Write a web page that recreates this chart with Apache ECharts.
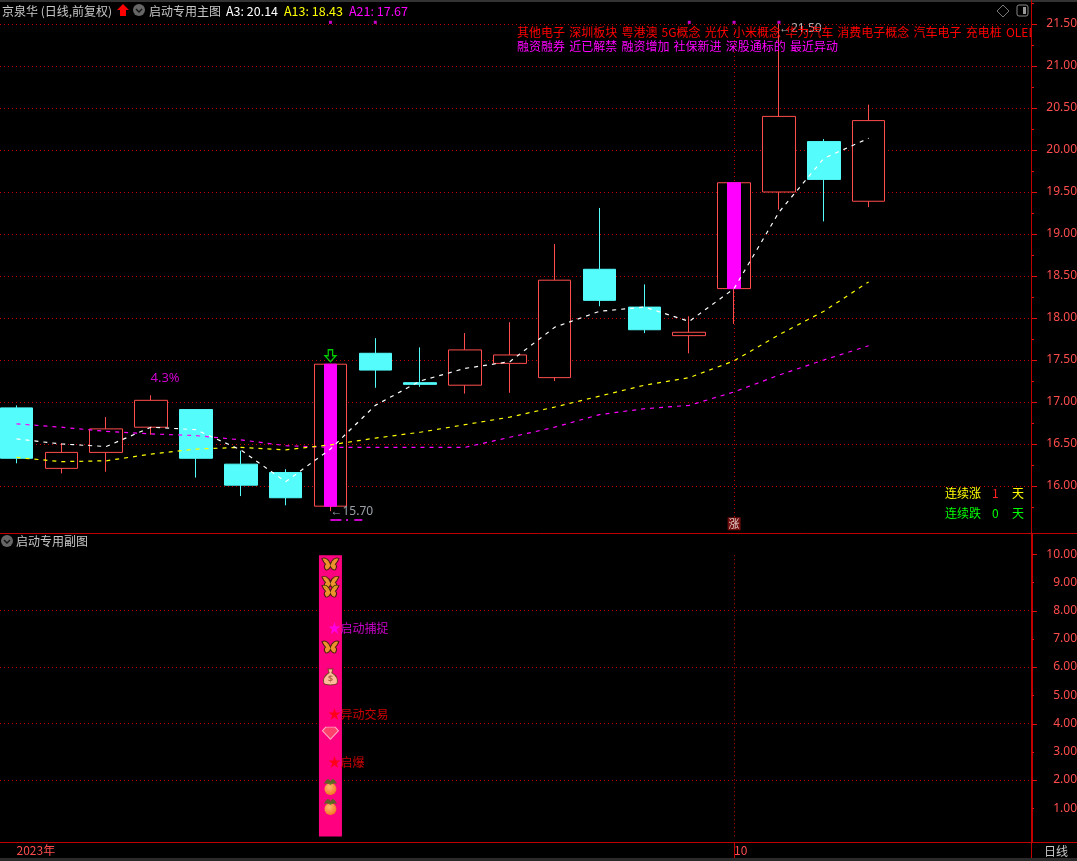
<!DOCTYPE html>
<html>
<head>
<meta charset="utf-8">
<title>京泉华</title>
<style>
  html,body{margin:0;padding:0;background:#000;}
  #main{width:1077px;height:861px;}
</style>
<script src="https://cdn.jsdelivr.net/npm/echarts@6/dist/echarts.min.js"></script>
</head>
<body>
<div id="main"></div>
<script>
// [open, close, low, high]
var candles = [
  [16.93,16.33,16.27,16.96],
  [16.21,16.40,16.15,16.51],
  [16.40,16.68,16.17,16.82],
  [16.70,17.02,16.61,17.08],
  [16.91,16.33,16.10,16.91],
  [16.26,16.01,15.88,16.42],
  [16.16,15.86,15.77,16.20],
  [15.76,17.45,15.70,17.45],
  [17.58,17.38,17.17,17.76],
  [17.23,17.21,17.18,17.65],
  [17.20,17.62,17.10,17.82],
  [17.46,17.56,17.11,17.95],
  [17.29,18.45,17.25,18.88],
  [18.58,18.21,18.14,19.31],
  [18.13,17.86,17.82,18.40],
  [17.79,17.83,17.58,18.02],
  [18.35,19.61,17.93,19.61],
  [19.50,20.40,19.29,21.50],
  [20.10,19.65,19.15,20.13],
  [19.39,20.35,19.32,20.54]
];
var a3 = [16.56,16.50,16.47,16.70,16.67,16.43,16.05,16.44,16.96,17.25,17.40,17.48,17.89,18.08,18.13,17.96,18.35,19.26,19.90,20.14];
var a13 = [16.34,16.29,16.30,16.38,16.44,16.46,16.43,16.49,16.57,16.64,16.73,16.82,16.94,17.07,17.20,17.29,17.49,17.80,18.08,18.43];
var a21 = [16.74,16.70,16.65,16.62,16.60,16.55,16.48,16.46,16.46,16.46,16.46,16.58,16.70,16.85,16.92,16.96,17.12,17.32,17.50,17.67];
// 启动柱
var gainBars = [7, 16];
var topDots = [7, 8, 15, 16, 17];
var monthIdx = 16;
var xLabels = {0:'2023年', 16:'10'};
var mainTicks = [16,16.5,17,17.5,18,18.5,19,19.5,20,20.5,21,21.5];
var mainMinorTicks = [15.75,16.25,16.75,17.25,17.75,18.25,18.75,19.25,19.75,20.25,20.75,21.25,21.75];
var subOddTicks = [1,3,5,7,9];
var subEvenTicks = [2,4,6,8,10];

var conceptTags = ['其他电子','深圳板块','粤港澳','5G概念','光伏','小米概念','华为汽车','消费电子概念','汽车电子','充电桩','OLED'];
var creditTags = ['融资融券','近已解禁','融资增加','社保新进','深股通标的','最近异动'];

// 副图
var subBarIdx = 7, subBarTop = 9.96;
var subGridLevels = [2,4,6,8];
var butterflies = [9.65,9.00,8.69,6.71];
var bags = [5.65];
var gems = [3.66];
var oranges = [1.68,0.97];
var signals = [
  {name:'启动捕捉', value:7.38, color:'#ff00ff'},
  {name:'异动交易', value:4.34, color:'#ff0000'},
  {name:'启爆', value:2.64, color:'#ff0000'}
];

var RED = '#ff4d4d', CYAN = '#54fcfc', GRID = '#c80000', FRAME = '#c00000', TICK = '#e01010';
var CJK = '"Noto Sans CJK SC","Noto Sans",sans-serif';
var NUM = '"Noto Sans","Liberation Sans",sans-serif';
var dotted = [1,3];

function head(x,y,text,color,size){
  return {type:'text',x:x,y:y,z:50,style:{text:text,fill:color,font:(size||12)+'px '+CJK,verticalAlign:'middle'}};
}
function tagRow(tags,x,y,color){
  var ctx = document.createElement('canvas').getContext('2d');
  ctx.font = '12px '+CJK;
  return tags.map(function(t){
    var el = head(x,y,t,color,12);
    x += ctx.measureText(t).width+4.2;
    return el;
  });
}
function hline(y,x1,x2,w){
  return {type:'line',z:60,shape:{x1:x1,y1:y,x2:x2,y2:y},style:{stroke:FRAME,lineWidth:w||1}};
}
function vline(x,y1,y2,w){
  return {type:'line',z:60,shape:{x1:x,y1:y1,x2:x,y2:y2},style:{stroke:FRAME,lineWidth:w||1}};
}
function chevron(cx,cy){
  return [
    {type:'circle',z:50,shape:{cx:cx,cy:cy,r:6},style:{fill:'#666'}},
    {type:'polyline',z:51,shape:{points:[[cx-3,cy-1],[cx,cy+2],[cx+3,cy-1]]},style:{stroke:'#111',lineWidth:1.4,fill:null}}
  ];
}
function maLine(name,data,color){
  return {name:name,type:'line',data:data.map(function(v,i){return [i,v];}),xAxisIndex:0,yAxisIndex:0,
    symbol:'none',z:10,lineStyle:{color:color,width:1.2,type:[4,5]}};
}

var graphicEls = [
  {type:'rect',z:30,shape:{x:0,y:0,width:1077,height:2},style:{fill:'#333'}},
  {type:'rect',z:30,shape:{x:0,y:858,width:1077,height:3},style:{fill:'#2a2a2a'}},
  hline(533.5,0,1077), hline(842.5,0,1077),
  vline(1031.5,0,533), vline(1032,533,842,2), vline(1031.5,842,858),
  // 标签超出坐标轴的部分盖掉
  {type:'rect',z:55,shape:{x:1032,y:26,width:13,height:13},style:{fill:'#000'}},
  head(2,11,'京泉华 (日线,前复权)','#c8c8c8',12),
  {type:'polygon',z:50,shape:{points:[[123,4],[129,10],[126,10],[126,16],[120,16],[120,10],[117,10]]},style:{fill:'#ff0000'}},
  head(149,11,'启动专用主图','#c8c8c8',12),
  head(226,11,'A3: '+a3[a3.length-1].toFixed(2),'#ffffff',12.5),
  head(284,11,'A13: '+a13[a13.length-1].toFixed(2),'#ffff00',12.5),
  head(349,11,'A21: '+a21[a21.length-1].toFixed(2),'#ff00ff',12.5),
  head(16,541,'启动专用副图','#c8c8c8',12),
  head(945,493,'连续涨','#ffff00',12), head(992,493,'1','#ff2020',12), head(1012,493,'天','#ffff00',12),
  head(945,513,'连续跌','#00ff00',12), head(992,513,'0','#00ff00',12), head(1012,513,'天','#00ff00',12),
  head(1044,851,'日线','#c8c8c8',12),
  {type:'polygon',z:50,shape:{points:[[1003,5],[1009,11],[1003,17],[997,11]]},style:{fill:null,stroke:'#777',lineWidth:1}},
  {type:'rect',z:50,shape:{x:1017,y:5,width:11,height:11,r:2},style:{fill:null,stroke:'#888',lineWidth:1}},
  {type:'rect',z:50,shape:{x:1023,y:7,width:3,height:7},style:{fill:'#999'}}
].concat(chevron(139,10), chevron(7,541), tagRow(conceptTags,517,32,'#ff0000'), tagRow(creditTags,517,46,'#ff00ff'));

var option = {
  animation:false,
  backgroundColor:'#000',
  textStyle:{fontFamily:CJK},
  graphic:{elements:graphicEls},
  grid:[
    {left:0,top:3,width:1031,height:525,outerBoundsMode:'none'},
    {left:0,top:540,width:1031,height:296.5,outerBoundsMode:'none'}
  ],
  xAxis:[
    {type:'value',gridIndex:0,min:-0.368,max:22.62,containShape:false,show:false,splitLine:{show:false}},
    {type:'value',gridIndex:1,min:-0.368,max:22.62,containShape:false,offset:6,splitLine:{show:false},
      axisLine:{show:true,onZero:false,lineStyle:{color:FRAME}},
      axisTick:{show:true,customValues:[monthIdx],length:16,lineStyle:{color:FRAME}},
      axisLabel:{customValues:[0,monthIdx],color:RED,fontSize:12,fontFamily:CJK,align:'left',margin:2,
        formatter:function(v){return xLabels[v]||'';}}}
  ],
  yAxis:[
    {type:'value',gridIndex:0,position:'right',min:15.5,max:21.75,interval:0.5,
      axisLine:{show:false,onZero:false},
      axisTick:{show:false},
      axisLabel:{color:RED,fontSize:12,fontFamily:NUM,align:'right',margin:46,showMinLabel:false,showMaxLabel:false,
        formatter:function(v){return v.toFixed(2);}},
      splitLine:{show:true,showMinLine:false,showMaxLine:false,lineStyle:{color:GRID,type:dotted}}},
    {type:'value',gridIndex:1,position:'right',min:0,max:10.5,interval:1,
      axisLine:{show:false,onZero:false},
      axisTick:{show:false},
      axisLabel:{color:RED,fontSize:12,fontFamily:NUM,align:'right',margin:46,showMinLabel:false,showMaxLabel:false,
        formatter:function(v){return v.toFixed(2);}},
      splitLine:{show:false}}
  ],
  series:[
    {name:'K',type:'candlestick',xAxisIndex:0,yAxisIndex:0,barWidth:33,z:5,
      encode:{x:0,y:[1,2,3,4]},
      data:candles.map(function(c,i){return [i].concat(c);}),
      itemStyle:{color:'#000',color0:CYAN,borderColor:RED,borderColor0:CYAN,borderWidth:1},
      markLine:{silent:true,symbol:'none',label:{show:false},z:1,
        lineStyle:{color:GRID,type:dotted,width:1},
        data:[[{coord:[monthIdx,21.5]},{coord:[monthIdx,15.62]}]]}},
    {name:'启动柱',type:'candlestick',xAxisIndex:0,yAxisIndex:0,barWidth:13,z:6,
      encode:{x:0,y:[1,2,3,4]},
      data:gainBars.map(function(i){var c=candles[i];return [i,c[0],c[1],c[0],c[1]];}),
      itemStyle:{color:'#ff00ff',color0:'#ff00ff',borderColor:'#ff00ff',borderColor0:'#ff00ff'}},
    maLine('A21',a21,'#ff00ff'),
    maLine('A13',a13,'#ffff00'),
    maLine('A3',a3,'#ffffff'),
    {name:'dots',type:'scatter',xAxisIndex:0,yAxisIndex:0,symbol:'rect',symbolSize:3,z:12,
      data:topDots.map(function(i){return [i,21.52];}),itemStyle:{color:'#ff00ff'}},
    {name:'notes',type:'scatter',xAxisIndex:0,yAxisIndex:0,symbolSize:0,z:13,
      data:[
        {value:[7,candles[7][2]],label:{show:true,position:'right',distance:0,formatter:'←'+candles[7][2].toFixed(2),color:'#c0c8d0',fontSize:12,fontFamily:NUM}},
        {value:[17,candles[17][3]],label:{show:true,position:'right',distance:0,offset:[0,5],formatter:'←'+candles[17][3].toFixed(2),color:'#d8d8d8',fontSize:12,fontFamily:NUM}},
        {value:[3,candles[3][3]],label:{show:true,position:'top',distance:2,offset:[14,-8],formatter:'4.3%',color:'#ff00ff',fontSize:13,fontFamily:NUM}}
      ]},
    {name:'arrow',type:'scatter',xAxisIndex:0,yAxisIndex:0,z:13,
      symbol:'path://M30 0 L70 0 L70 50 L100 50 L50 100 L0 50 L30 50 Z',symbolSize:[11,12],
      data:[[7,17.55]],itemStyle:{color:'#000',borderColor:'#00ff00',borderWidth:1.3}},
    {name:'zhang',type:'scatter',xAxisIndex:0,yAxisIndex:0,z:13,symbol:'rect',symbolSize:13,
      data:[[monthIdx,15.55]],itemStyle:{color:'#8c0f0f'},
      label:{show:true,position:'inside',formatter:'涨',color:'#fff',fontSize:11,fontFamily:CJK}},
    {name:'cut',type:'scatter',xAxisIndex:0,yAxisIndex:0,z:13,symbol:'rect',
      data:[{value:[7.12,15.595],symbolSize:[11,2]},{value:[7.37,15.595],symbolSize:[2,2]},{value:[7.62,15.595],symbolSize:[8,2]}],
      itemStyle:{color:'#ff00ff'}},

    // 副图
    {name:'gap',type:'candlestick',xAxisIndex:1,yAxisIndex:1,barWidth:27,z:3,
      encode:{x:0,y:[1,2,3,4]},
      data:[[subBarIdx,0,subBarTop,0,subBarTop]],
      itemStyle:{color:'#000',color0:'#000',borderColor:'#000',borderColor0:'#000'},
      markLine:{silent:true,symbol:'none',label:{show:false},z:1,
        lineStyle:{color:GRID,type:dotted,width:1},
        data:subGridLevels.map(function(v){return {yAxis:v};}).concat([[{coord:[monthIdx,9.96]},{coord:[monthIdx,0]}]])}},
    {name:'sub',type:'bar',xAxisIndex:1,yAxisIndex:1,barWidth:23,z:4,
      data:[[subBarIdx,subBarTop]],itemStyle:{color:'#ff0080'}},
    {name:'butterfly',type:'scatter',xAxisIndex:1,yAxisIndex:1,z:6,
      symbol:'path://M50 40 C40 10 15 5 2 12 C8 25 15 35 22 42 C12 48 14 62 24 72 C32 75 44 68 50 55 C56 68 68 75 76 72 C86 62 88 48 78 42 C85 35 92 25 98 12 C85 5 60 10 50 40Z',
      symbolSize:[17,12],
      data:butterflies.map(function(v){return [subBarIdx,v];}),
      itemStyle:{color:'#e8b818',borderColor:'#2a1500',borderWidth:1}},
    {name:'bag',type:'scatter',xAxisIndex:1,yAxisIndex:1,z:6,
      symbol:'path://M35 5 L65 5 L58 25 C85 40 95 60 90 80 C85 95 15 95 10 80 C5 60 15 40 42 25Z',
      symbolSize:[14,16],
      data:bags.map(function(v){return [subBarIdx,v];}),
      itemStyle:{color:'#ffeaa0',borderColor:'#5a4010',borderWidth:1},
      label:{show:true,position:'inside',offset:[0,2],formatter:'$',color:'#9a5030',fontSize:9,fontWeight:'bold',fontFamily:NUM}},
    {name:'gem',type:'scatter',xAxisIndex:1,yAxisIndex:1,z:6,
      symbol:'path://M20 10 L80 10 L100 35 L50 95 L0 35Z',symbolSize:[16,12],
      data:gems.map(function(v){return [subBarIdx,v];}),
      itemStyle:{color:'#ff5068',borderColor:'#ffd0d8',borderWidth:1}},
    {name:'orange',type:'scatter',xAxisIndex:1,yAxisIndex:1,z:6,symbol:'circle',symbolSize:12,
      data:oranges.map(function(v){return [subBarIdx,v];}),
      itemStyle:{color:new echarts.graphic.RadialGradient(0.4,0.35,0.7,[{offset:0,color:'#ffe870'},{offset:1,color:'#f09000'}])}},
    {name:'leaf',type:'scatter',xAxisIndex:1,yAxisIndex:1,z:7,
      symbol:'path://M0 60 C20 10 40 10 50 40 C60 10 80 10 100 60 C70 50 60 60 50 70 C40 60 30 50 0 60Z',
      symbolSize:[13,6],symbolOffset:[0,-7],
      data:oranges.map(function(v){return [subBarIdx,v];}),
      itemStyle:{color:'#3a7a10'}},
    {name:'signals',type:'scatter',xAxisIndex:1,yAxisIndex:1,z:8,
      symbol:'path://M50 0 L62 36 L100 36 L69 58 L81 96 L50 73 L19 96 L31 58 L0 36 L38 36 Z',
      symbolSize:12,symbolOffset:[4,0],
      data:signals.map(function(s){
        return {value:[subBarIdx,s.value],itemStyle:{color:s.color},label:{show:true,position:'right',distance:0,formatter:s.name,color:s.color,fontSize:12,fontFamily:CJK}};
      })}
  ]
};

var myChart = echarts.init(document.getElementById('main'));
myChart.setOption(option);

// 右边刻度线，位置从坐标轴换算
function tickEls(values,axisIndex,len){
  return values.map(function(v){
    var y = Math.round(myChart.convertToPixel({yAxisIndex:axisIndex},v))+0.5;
    return {type:'line',z:60,shape:{x1:1032,y1:y,x2:1032+len,y2:y},style:{stroke:TICK,lineWidth:1}};
  });
}
myChart.setOption({graphic:{elements:graphicEls.concat(
  tickEls(mainTicks,0,5),tickEls(mainMinorTicks,0,2),tickEls(subEvenTicks,1,5),tickEls(subOddTicks,1,2)
)}});
</script>
</body>
</html>
